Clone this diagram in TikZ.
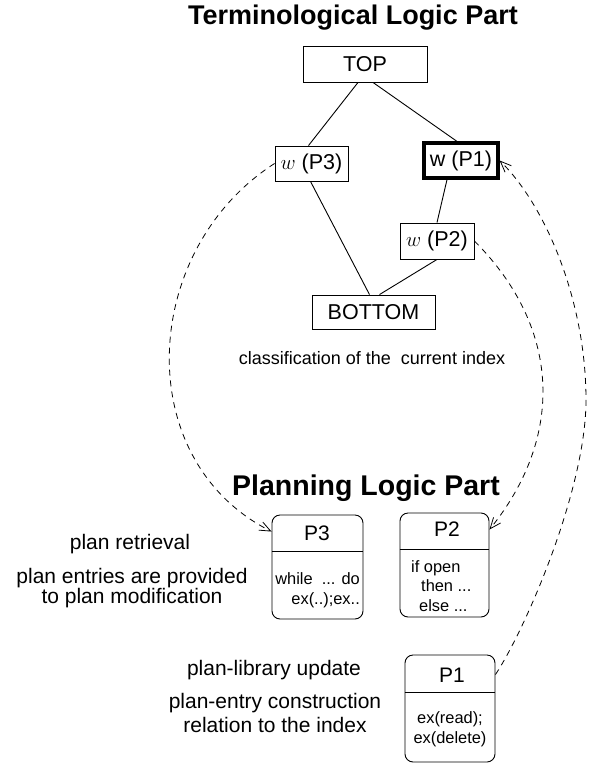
\documentclass[tikz,border=0pt]{standalone}
\usepackage{fontspec}
\setmainfont{Liberation Sans}
\usetikzlibrary{arrows.meta,calc}
\begin{document}
\begin{tikzpicture}[x=1pt,y=-1pt,
  tbox/.style={draw,line width=0.9pt,inner sep=0pt,font=\fontsize{21.5}{24}\selectfont},
  pbox/.style={draw,line width=0.9pt,rounded corners=8pt,inner sep=0pt},
  tline/.style={line width=0.9pt},
  dline/.style={line width=0.8pt,dash pattern=on 6pt off 5pt,-{Straight Barb[length=11pt,width=9pt]}},
  lbl/.style={font=\fontsize{21}{24}\selectfont,align=center,inner sep=0pt},
  body/.style={font=\fontsize{16.4}{19.5}\selectfont,inner sep=0pt},
  ttl/.style={font=\fontsize{27}{30}\selectfont\bfseries,inner sep=0pt}]
\useasboundingbox (0,0) rectangle (600,764);
\node[ttl,anchor=base] (t1) at (353,24) {Terminological Logic Part};
\node[tbox,minimum width=124pt,minimum height=36pt] (top) at (365,64) {TOP};
\node[tbox,minimum width=73pt,minimum height=35pt] (w3) at (311.5,163.5) {$w$ (P3)};
\node[tbox,line width=3.2pt,minimum width=74pt,minimum height=35pt] (w1) at (461,160.5) {w (P1)};
\node[tbox,minimum width=74pt,minimum height=36pt] (w2) at (437,241) {$w$ (P2)};
\node[tbox,minimum width=123pt,minimum height=34pt] (bot) at (373.5,312) {BOTTOM};
\draw[tline] ([xshift=-7pt]top.south) -- ([xshift=-3pt]w3.north);
\draw[tline] ([xshift=8pt]top.south) -- ([xshift=-4pt]w1.north);
\draw[tline] ([xshift=-1pt]w3.south) -- ([xshift=-4pt]bot.north);
\draw[tline] ([xshift=-14pt]w1.south) -- (w2.north);
\draw[tline] (w2.south) -- ([xshift=6pt]bot.north);
\node[lbl,font=\fontsize{18}{21}\selectfont,anchor=base] (cls) at (372,364) {classification of the \ current index};
\node[ttl,font=\fontsize{28.5}{31}\selectfont\bfseries,anchor=base] (t2) at (366,495) {Planning Logic Part};
% plan boxes
\node[pbox,minimum width=91pt,minimum height=104pt] (p3) at (317.5,567) {};
\draw[tline] ([yshift=-37pt]p3.north west) -- ([yshift=-37pt]p3.north east);
\node[lbl] (p3l) at (317,533) {P3};
\node[body,anchor=east,align=right] (p3b) at (360,590) {while \ ... do\\ex(..);ex..};
\node[pbox,minimum width=89pt,minimum height=104pt] (p2) at (444.5,565) {};
\draw[tline] ([yshift=-37pt]p2.north west) -- ([yshift=-37pt]p2.north east);
\node[lbl] (p2l) at (447,529) {P2};
\node[body,anchor=north west,align=left] (p2b) at (411,560) {if open\\\hspace*{10pt}then ...\\\hspace*{8pt}else ...};
\node[pbox,minimum width=90pt,minimum height=107pt] (p1) at (450,708.5) {};
\draw[tline] ([yshift=-38pt]p1.north west) -- ([yshift=-38pt]p1.north east);
\node[lbl] (p1l) at (452,675) {P1};
\node[body,align=center] (p1b) at (450,729) {ex(read);\\ex(delete)};
% left labels
\node[lbl,anchor=base] (l1) at (130,549) {plan retrieval};
\node[lbl] (l2) at (132,588) {plan entries are provided\\[-4pt]to plan modification};
\node[lbl,anchor=base] (l3) at (274,675) {plan-library update};
\node[lbl] (l4) at (275,713) {plan-entry construction\\relation to the index};
% dashed connectors
\coordinate (a3) at ([yshift=-17pt]p3.north west);
\coordinate (a2) at ([yshift=-17pt]p2.north east);
\coordinate (s1) at ([yshift=-20pt]p1.north east);
\draw[dline] (w3.west) .. controls (140,250) and (130,460) .. (a3);
\draw[dline] (w2.east) .. controls (564,331) and (562,440) .. (a2);
\coordinate (m1) at (586,400);
\draw[dline] (s1) .. controls (525,630) and (586,490) .. (m1) .. controls (586,300) and (545,205) .. (w1.east);
\end{tikzpicture}
\end{document}
